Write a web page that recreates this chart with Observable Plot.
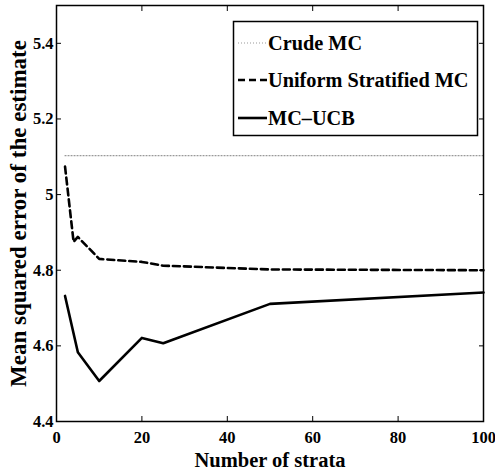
<!DOCTYPE html>
<html><head><meta charset="utf-8">
<script src="https://cdn.jsdelivr.net/npm/d3@7"></script>
<script src="https://cdn.jsdelivr.net/npm/@observablehq/plot@0.6"></script>
<style>
body{margin:0;background:#fff}
svg text{font-family:"Liberation Serif","DejaVu Serif",serif !important;font-weight:bold}
</style>
</head><body><div id="chart"></div>
<script>
const crudeX = [2, 100];
const crudeY = [5.103, 5.103];
const uniformX = [2, 4, 5, 10, 20, 25, 50, 100];
const uniformY = [5.074, 4.875, 4.888, 4.830, 4.822, 4.812, 4.802, 4.800];
const ucbX = [2, 5, 10, 20, 25, 50, 100];
const ucbY = [4.732, 4.583, 4.507, 4.621, 4.607, 4.711, 4.741];
const xTicks = [0, 20, 40, 60, 80, 100];
const yTicks = [4.4, 4.6, 4.8, 5.0, 5.2, 5.4];
const yTickLabels = ["4.4", "4.6", "4.8", "5", "5.2", "5.4"];
const seriesNames = ["Crude MC", "Uniform Stratified MC", "MC\u2013UCB"];
const xLabel = "Number of strata";
const yLabel = "Mean squared error of the estimate";

const toRows = (xs, ys) => xs.map((x, i) => ({x, y: ys[i]}));
const crude = toRows(crudeX, crudeY);
const uniform = toRows(uniformX, uniformY);
const ucb = toRows(ucbX, ucbY);

const font = "Liberation Serif, DejaVu Serif, serif";
const W = 495, H = 473;
const mL = 56, mR = 12, mT = 5, mB = 52;

const plot = Plot.plot({
  width: W, height: H,
  marginLeft: mL, marginRight: mR, marginTop: mT, marginBottom: mB,
  style: {fontFamily: font, fontWeight: "bold", background: "white", color: "black"},
  x: {domain: [0, 100], axis: null},
  y: {domain: [4.4, 5.5], axis: null},
  marks: [
    Plot.line(crude, {x: "x", y: "y", stroke: "#999", strokeWidth: 1.2, strokeDasharray: "1,2"}),
    Plot.line(uniform, {x: "x", y: "y", stroke: "black", strokeWidth: 2.6, strokeDasharray: "7,4"}),
    Plot.line(ucb, {x: "x", y: "y", stroke: "black", strokeWidth: 2.6}),
    // inward ticks on all four sides
    Plot.axisX({anchor: "bottom", ticks: xTicks, tickSize: 5, dy: -5, tickFormat: () => "", label: null, strokeWidth: 1}),
    Plot.axisX({anchor: "top", ticks: xTicks, tickSize: 5, dy: 5, tickFormat: () => "", label: null, strokeWidth: 1}),
    Plot.axisY({anchor: "left", ticks: yTicks, tickSize: 5, dx: 5, tickFormat: () => "", label: null, strokeWidth: 1}),
    Plot.axisY({anchor: "right", ticks: yTicks, tickSize: 5, dx: -5, tickFormat: () => "", label: null, strokeWidth: 1}),
    // tick labels
    Plot.axisX({anchor: "bottom", ticks: xTicks, tickSize: 0, tickPadding: 10, tickFormat: d => String(d), label: null, fontSize: 16.5}),
    Plot.axisY({anchor: "left", ticks: yTicks, tickSize: 0, tickPadding: 3, tickFormat: d => yTickLabels[yTicks.indexOf(d)], label: null, fontSize: 16.5}),
    Plot.frame({stroke: "black", strokeWidth: 1.5}),
    Plot.text([xLabel], {frameAnchor: "bottom", dy: 45.5, fontSize: 20.5, textAnchor: "middle", lineAnchor: "bottom", fill: "black"}),
    Plot.text([yLabel], {frameAnchor: "left", dx: -38, rotate: -90, fontSize: 23, textAnchor: "middle", lineAnchor: "middle", fill: "black"})
  ]
});
document.getElementById("chart").appendChild(plot);

// legend
const svg = d3.select(plot);
const lg = svg.append("g").attr("font-size", 20.3).attr("text-anchor", "start");
lg.append("rect").attr("x", 233.5).attr("y", 21.5).attr("width", 244).attr("height", 114)
  .attr("fill", "white").attr("stroke", "black").attr("stroke-width", 1.5);
const styles = [
  {stroke: "#999", w: 1.2, dash: "1,2"},
  {stroke: "black", w: 2.6, dash: "7,4"},
  {stroke: "black", w: 2.6, dash: null}
];
const rowsY = [43, 80, 118];
seriesNames.forEach((name, i) => {
  const s = styles[i];
  const l = lg.append("line").attr("x1", 238).attr("x2", 267).attr("y1", rowsY[i]).attr("y2", rowsY[i])
    .attr("stroke", s.stroke).attr("stroke-width", s.w);
  if (s.dash) l.attr("stroke-dasharray", s.dash);
  lg.append("text").attr("x", 268).attr("y", rowsY[i] + 7).attr("fill", "black").text(name);
});
</script>
</body></html>
